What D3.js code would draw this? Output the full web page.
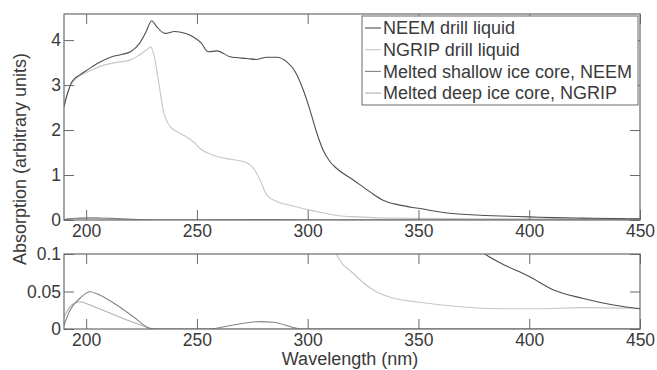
<!DOCTYPE html>
<html>
<head>
<meta charset="utf-8">
<script src="https://cdn.jsdelivr.net/npm/d3@7"></script>
<style>
  body { margin: 0; background: #fff; }
  text { font-family: "Liberation Sans", Arial, sans-serif; fill: #3a3a3a; }
</style>
</head>
<body>
<script>
// wavelength (nm), absorption (arbitrary units)
const neemDrill = [
  [190, 2.52], [191.5, 2.8], [193.5, 3.07], [197, 3.22], [200, 3.32], [205, 3.48],
  [211, 3.62], [216, 3.68], [220, 3.74], [224, 3.92], [227, 4.18], [229.6, 4.43],
  [231.8, 4.3], [235.6, 4.15], [240, 4.19], [244.6, 4.15], [248.4, 4.07], [252, 3.93],
  [255, 3.74], [259, 3.76], [265, 3.63], [272.5, 3.59], [277, 3.57], [281.5, 3.62],
  [286, 3.62], [290.5, 3.52], [294.3, 3.3], [298, 2.89], [301, 2.45], [304, 1.95],
  [307, 1.55], [310, 1.3], [313, 1.15], [320.6, 0.89], [328, 0.63], [334, 0.44],
  [341.7, 0.33], [350, 0.26], [364, 0.15], [380, 0.1], [387, 0.088], [400, 0.07],
  [411, 0.052], [424, 0.041], [438, 0.032], [450, 0.027]
];
const ngripDrill = [
  [190, 2.55], [193, 3.0], [197, 3.2], [201, 3.3], [206, 3.41], [211, 3.48],
  [220, 3.56], [224, 3.67], [228, 3.81], [229.1, 3.85], [230.6, 3.67], [232.6, 3.11],
  [234.8, 2.44], [238, 2.07], [242.4, 1.93], [248.4, 1.74], [251.4, 1.59], [257.4, 1.44],
  [265, 1.35], [271, 1.3], [275.5, 1.15], [278.5, 0.89], [281.5, 0.56], [286, 0.41],
  [292, 0.33], [301, 0.22], [307, 0.16], [313, 0.1], [320.6, 0.074], [329.6, 0.052],
  [338.7, 0.041], [349.7, 0.036], [364, 0.031], [387, 0.027], [402, 0.027],
  [424, 0.0285], [450, 0.0276]
];
const shallowNeem = [
  [190, 0.005], [192.7, 0.025], [197.2, 0.041], [201.7, 0.0497], [206.3, 0.045],
  [213.8, 0.032], [221.3, 0.0164], [228.8, 0.001], [232, 0], [255, 0], [266.4, 0.0053],
  [278.5, 0.0098], [284.5, 0.009], [295, 0.001], [298, 0], [450, 0]
];
const deepNgrip = [
  [190, 0.0164], [193.5, 0.032], [197.2, 0.0364], [201.7, 0.032], [209.3, 0.023],
  [218.3, 0.012], [225.8, 0.004], [229.6, 0], [450, 0]
];

const seriesNames = [
  "NEEM drill liquid",
  "NGRIP drill liquid",
  "Melted shallow ice core, NEEM",
  "Melted deep ice core, NGRIP"
];
const seriesData = [neemDrill, ngripDrill, shallowNeem, deepNgrip];
const colors = ["#4e4e4e", "#c6c6c6", "#848484", "#b2b2b2"];

const xTicks = [200, 250, 300, 350, 400, 450];
const yTicksTop = [0, 1, 2, 3, 4];
const yTicksBottom = [0, 0.05, 0.1];

const [width, height] = [657, 370];

const svg = d3.select("body")
  .append("svg")
  .attr("width", width)
  .attr("height", height);

const x = d3.scaleLinear().domain([190, 450]).range([64, 640]);

const panels = [
  { id: "top", y: d3.scaleLinear().domain([0, 4.58]).range([220, 14]), ticks: yTicksTop },
  { id: "bottom", y: d3.scaleLinear().domain([0, 0.1]).range([329, 254]), ticks: yTicksBottom }
];

panels.forEach(p => {
  const [y0, y1] = p.y.range();
  const g = svg.append("g").classed("panel-" + p.id, true);

  g.append("clipPath")
    .attr("id", "clip-" + p.id)
    .append("rect")
    .attr("x", x.range()[0])
    .attr("y", y1)
    .attr("width", x.range()[1] - x.range()[0])
    .attr("height", y0 - y1);

  const line = d3.line()
    .x(d => x(d[0]))
    .y(d => p.y(d[1]))
    .curve(d3.curveMonotoneX);

  // draw light lines first so the dark ones sit on top
  g.append("g")
    .attr("clip-path", `url(#clip-${p.id})`)
    .selectAll("path")
    .data([1, 3, 2, 0])
    .enter()
    .append("path")
    .attr("d", i => line(seriesData[i]))
    .attr("fill", "none")
    .attr("stroke", i => colors[i])
    .attr("stroke-width", 1.1);

  const fmt = d => d;

  const bottomAxis = g.append("g")
    .attr("transform", `translate(0,${y0})`)
    .call(d3.axisBottom(x).tickValues(xTicks).tickSizeInner(-10).tickSizeOuter(0).tickPadding(5));
  g.append("g")
    .attr("transform", `translate(0,${y1})`)
    .call(d3.axisTop(x).tickValues(xTicks).tickSizeInner(-10).tickSizeOuter(0).tickFormat(""));
  const leftAxis = g.append("g")
    .attr("transform", `translate(${x.range()[0]},0)`)
    .call(d3.axisLeft(p.y).tickValues(p.ticks).tickSizeInner(-10).tickSizeOuter(0).tickPadding(3).tickFormat(fmt));
  g.append("g")
    .attr("transform", `translate(${x.range()[1]},0)`)
    .call(d3.axisRight(p.y).tickValues(p.ticks).tickSizeInner(-10).tickSizeOuter(0).tickFormat(""));

  g.selectAll(".domain").remove();
  g.selectAll(".tick line").attr("stroke", "#6a6a6a");
  g.selectAll(".tick text")
    .style("font-size", "17.5px")
    .style("font-family", '"Liberation Sans", Arial, sans-serif')
    .attr("fill", "#3a3a3a");

  g.append("rect")
    .attr("x", x.range()[0])
    .attr("y", y1)
    .attr("width", x.range()[1] - x.range()[0])
    .attr("height", y0 - y1)
    .attr("fill", "none")
    .attr("stroke", "#6a6a6a")
    .attr("stroke-width", 1.2);
});

// legend
const legend = svg.append("g").classed("legend", true);
legend.append("rect")
  .attr("x", 362)
  .attr("y", 16)
  .attr("width", 276)
  .attr("height", 89)
  .attr("fill", "#fff")
  .attr("stroke", "#777")
  .attr("stroke-width", 1.1);

const item = legend.selectAll(".item")
  .data(seriesNames)
  .enter()
  .append("g")
  .classed("item", true)
  .attr("transform", (d, i) => `translate(0,${28 + i * 21.7})`);

item.append("line")
  .attr("x1", 365)
  .attr("x2", 381)
  .attr("stroke", (d, i) => colors[i])
  .attr("stroke-width", 1.1);

item.append("text")
  .attr("x", 383)
  .attr("dy", "0.35em")
  .style("font-size", "18px")
  .text(d => d);

// axis titles
svg.append("text")
  .attr("transform", "translate(20,159) rotate(-90)")
  .attr("text-anchor", "middle")
  .attr("dy", "0.35em")
  .style("font-size", "18px")
  .text("Absorption (arbitrary units)");

svg.append("text")
  .attr("x", 350)
  .attr("y", 365)
  .attr("text-anchor", "middle")
  .style("font-size", "18px")
  .text("Wavelength (nm)");
</script>
</body>
</html>
